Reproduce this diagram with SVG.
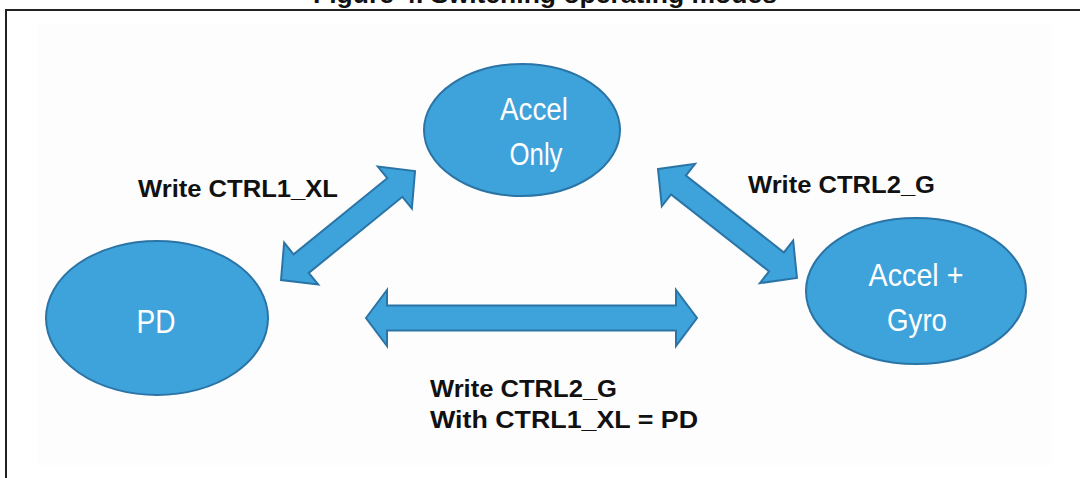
<svg xmlns="http://www.w3.org/2000/svg" width="1080" height="478" viewBox="0 0 1080 478">
  <style>
    .node { fill: #3ea2db; stroke: #2b74a6; stroke-width: 2; }
    .ntext { font-family: "Liberation Sans", Arial, sans-serif; fill: #ffffff; text-anchor: middle; }
    .label { font-family: "Liberation Sans", Arial, sans-serif; font-weight: bold; fill: #111111; font-size: 24px; }
    .arrow { fill: #3ea2db; stroke: #2b74a6; stroke-width: 2; stroke-linejoin: miter; }
    .title { font-family: "Liberation Sans", Arial, sans-serif; font-weight: bold; fill: #111111; font-size: 26px; }
  </style>
  <rect x="0" y="0" width="1080" height="478" fill="#ffffff"/>
  <text class="title" x="313" y="3" textLength="464" lengthAdjust="spacingAndGlyphs">Figure 4. Switching operating modes</text>
  <rect x="37" y="24" width="1015" height="441" fill="#fdfdfd"/>
  <line x1="5" y1="10" x2="1080" y2="10" stroke="#222222" stroke-width="2"/>
  <line x1="6" y1="9" x2="6" y2="478" stroke="#222222" stroke-width="2"/>

  <g id="connectors">
    <polygon class="arrow" transform="translate(281,280) rotate(-39.1)" points="0,0 26,-27 26,-12 146.7,-12 146.7,-27 172.7,0 146.7,27 146.7,12 26,12 26,27"/>
    <polygon class="arrow" transform="translate(658,169) rotate(38.1)" points="0,0 26,-27 26,-12 150.6,-12 150.6,-27 176.6,0 150.6,27 150.6,12 26,12 26,27"/>
    <polygon class="arrow" transform="translate(366,318)" points="0,0 21,-28 21,-12.5 310,-12.5 310,-28 331,0 310,28 310,12.5 21,12.5 21,28"/>
    <text class="label" x="138" y="197" textLength="200" lengthAdjust="spacingAndGlyphs">Write CTRL1_XL</text>
    <text class="label" x="748" y="193" textLength="187" lengthAdjust="spacingAndGlyphs">Write CTRL2_G</text>
    <text class="label" x="430" y="397" textLength="187" lengthAdjust="spacingAndGlyphs">Write CTRL2_G</text>
    <text class="label" x="430" y="428" textLength="268" lengthAdjust="spacingAndGlyphs">With CTRL1_XL = PD</text>
  </g>

  <g id="node-accel-only">
    <ellipse class="node" cx="522" cy="130" rx="98" ry="66"/>
    <text class="ntext" x="534" y="120" font-size="31" textLength="68" lengthAdjust="spacingAndGlyphs">Accel</text>
    <text class="ntext" x="536" y="165" font-size="31" textLength="53" lengthAdjust="spacingAndGlyphs">Only</text>
  </g>

  <g id="node-pd">
    <ellipse class="node" cx="157" cy="318" rx="111" ry="77"/>
    <text class="ntext" x="156" y="333" font-size="34" textLength="39" lengthAdjust="spacingAndGlyphs">PD</text>
  </g>

  <g id="node-accel-gyro">
    <ellipse class="node" cx="916" cy="291" rx="110" ry="73"/>
    <text class="ntext" x="916" y="286" font-size="32" textLength="95" lengthAdjust="spacingAndGlyphs">Accel +</text>
    <text class="ntext" x="917" y="331" font-size="32" textLength="60" lengthAdjust="spacingAndGlyphs">Gyro</text>
  </g>
</svg>
